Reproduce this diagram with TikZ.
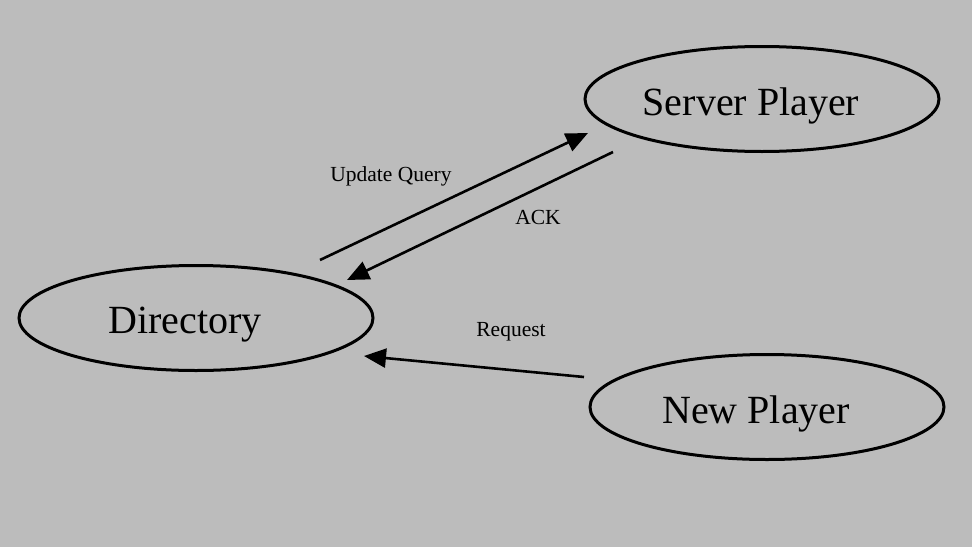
\documentclass[tikz,border=0pt]{standalone}
\usepackage{fontspec}
\setmainfont{Liberation Serif}
\usetikzlibrary{arrows.meta,shapes.geometric}
\definecolor{bggray}{HTML}{BCBCBC}
\newcommand{\plabel}[1]{\raisebox{-7pt}[\height][\depth]{#1}\hspace*{22pt}}
\tikzset{
  player/.style={draw=black, line width=3pt, ellipse, minimum width=354pt, minimum height=105pt, inner sep=0pt, font=\fontsize{40}{44}\selectfont},
  msg/.style={draw=black, line width=2.6pt, -{Triangle[length=22pt,width=19pt]}},
  msglabel/.style={font=\fontsize{21.5}{25}\selectfont, inner sep=0pt}
}
\begin{document}
\begin{tikzpicture}[x=1pt,y=-1pt]
\useasboundingbox (0,0) rectangle (972,549);
\fill[bggray] (0,0) rectangle (972,547);
\fill[white] (0,547) rectangle (972,549);
\node[player] (server) at (762,99) {\plabel{Server Player}};
\node[player] (dir) at (196,318) {\plabel{Directory}};
\node[player] (new) at (767,407) {\plabel{New Player}};
\coordinate (uqs) at (320,260);
\coordinate (uqe) at (588,133);
\coordinate (acks) at (613,152);
\coordinate (acke) at (347,280);
\coordinate (reqs) at (584,377);
\coordinate (reqe) at (364,356);
\draw[msg] (uqs) -- (uqe);
\draw[msg] (acks) -- (acke);
\draw[msg] (reqs) -- (reqe);
\node[msglabel] (uql) at (391,176) {Update Query};
\node[msglabel] (ackl) at (538,217) {ACK};
\node[msglabel] (reql) at (511,332) {Request};
\end{tikzpicture}
\end{document}
